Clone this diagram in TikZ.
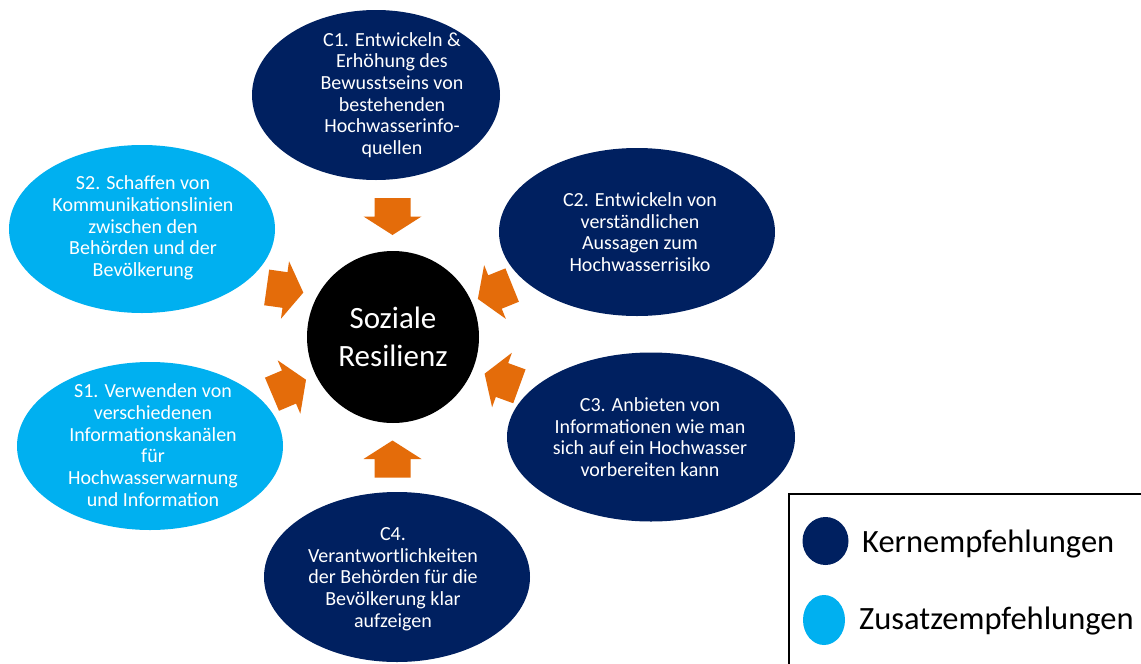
\documentclass[tikz,border=0pt]{standalone}
\usepackage{fontspec}
\setmainfont{Carlito}
\usetikzlibrary{shapes.geometric}
\definecolor{navy}{HTML}{002060}
\definecolor{sky}{HTML}{00B0F0}
\definecolor{orng}{HTML}{E46C0A}
\begin{document}
\begin{tikzpicture}[x=1pt,y=-1pt,
  core/.style={ellipse,fill=navy,inner sep=0pt},
  extra/.style={ellipse,fill=sky,inner sep=0pt},
  etext/.style={text=white,align=center,font=\fontsize{20}{21.7}\selectfont,inner sep=0pt},
  legtext/.style={anchor=base west,inner sep=0pt,font=\fontsize{32.5}{38}\selectfont,text=black},
  pics/blockarrow/.style={code={
    \fill[orng] (-18.5,-18) -- (0,-18) -- (0,-29) -- (18.5,0) -- (0,29) -- (0,18) -- (-18.5,18) -- cycle;}},
]
\clip (0,0) rectangle (1141,664);
\fill[white] (0,0) rectangle (1141,664);

% ellipses
\node[core, minimum width=248pt, minimum height=170pt] (c1) at (376,95) {};
\node[core, minimum width=276pt, minimum height=168pt] (c2) at (637,232) {};
\node[core, minimum width=288pt, minimum height=169pt] (c3) at (651,437) {};
\node[core, minimum width=266pt, minimum height=170pt] (c4) at (397,577) {};
\node[extra, minimum width=266pt, minimum height=168pt] (s2) at (142,229) {};
\node[extra, minimum width=266pt, minimum height=168pt] (s1) at (150,446) {};

% texts
\node[etext] (t1) at (392,95) {C1. Entwickeln \&\\Erhöhung des\\Bewusstseins von\\bestehenden\\Hochwasserinfo-\\quellen};
\node[etext] (t2) at (640,232) {C2. Entwickeln von\\verständlichen\\Aussagen zum\\Hochwasserrisiko};
\node[etext] (t3) at (650,437) {C3. Anbieten von\\Informationen wie man\\sich auf ein Hochwasser\\vorbereiten kann};
\node[etext] (t4) at (393,579) {C4.\\Verantwortlichkeiten\\der Behörden für die\\Bevölkerung klar\\aufzeigen};
\node[etext] (ts2) at (143,228) {S2. Schaffen von\\Kommunikationslinien\\zwischen den\\Behörden und der\\Bevölkerung};
\node[etext] (ts1) at (153,445) {S1. Verwenden von\\verschiedenen\\Informationskanälen\\für\\Hochwasserwarnung\\und Information};

% centre
\node[circle, fill=black, minimum size=172pt, inner sep=0pt, text=white, align=center,
      font=\fontsize{31}{38}\selectfont] (core) at (393,337) {Soziale\\Resilienz};

% block arrows
\pic[rotate=-90] (a1) at (392.5,216.5) {blockarrow};
\pic[rotate=90] (a4) at (392.5,459) {blockarrow};
\pic[rotate=-8] (as2) at (285,290) {blockarrow};
\pic[rotate=23] (as1) at (289,387) {blockarrow};
\pic[rotate=202] (a2) at (495,292) {blockarrow};
\pic[rotate=160] (a3) at (502,380) {blockarrow};

% legend
\node[draw=black, line width=2pt, anchor=north west, minimum width=370pt, minimum height=190pt,
      inner sep=0pt] (legend) at (788,493) {};
\node[ellipse, fill=navy, minimum width=46pt, minimum height=48pt, inner sep=0pt] (lk) at (825.5,541) {};
\node[ellipse, fill=sky, minimum width=42pt, minimum height=50pt, inner sep=0pt] (lz) at (824,620) {};
\node[legtext] (lkt) at (862,552) {Kernempfehlungen};
\node[legtext] (lzt) at (859,629) {Zusatzempfehlungen};
\end{tikzpicture}
\end{document}
